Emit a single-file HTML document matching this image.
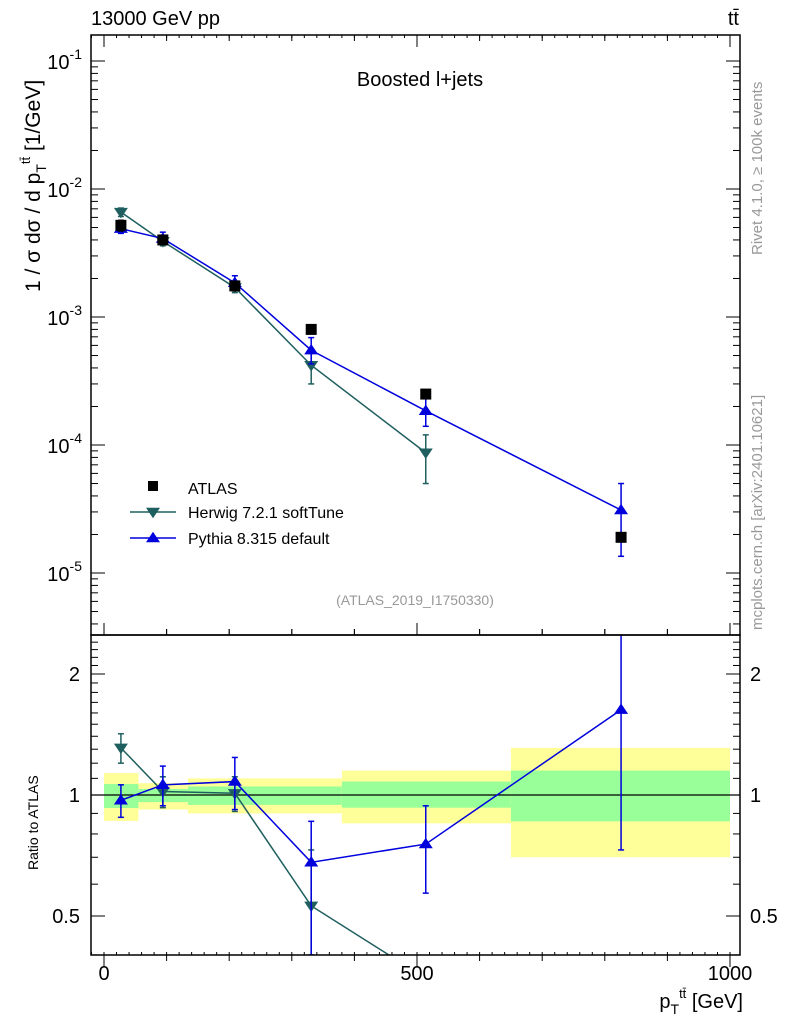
<!DOCTYPE html>
<html><head><meta charset="utf-8"><style>
html,body{margin:0;background:#fff;width:786px;height:1024px;overflow:hidden}
svg{display:block;font-family:"Liberation Sans",sans-serif}
</style></head><body>
<svg id="c" width="786" height="1024" xmlns="http://www.w3.org/2000/svg"></svg>
<script>
const xCenters=[27,94,209,331,514,826];
const atlas=[5.2e-3,4.0e-3,1.75e-3,8.0e-4,2.5e-4,1.9e-5];
const atlasErrLo=[4.7e-3,3.7e-3,1.6e-3,7.6e-4,2.4e-4,1.8e-5];
const atlasErrHi=[5.7e-3,4.3e-3,1.9e-3,8.4e-4,2.6e-4,2.0e-5];
const herwig=[6.6e-3,3.9e-3,1.7e-3,4.2e-4,8.7e-5];
const herwigLo=[6.1e-3,3.6e-3,1.55e-3,3.0e-4,5.0e-5];
const herwigHi=[7.1e-3,4.2e-3,1.85e-3,5.4e-4,1.2e-4];
const pythia=[4.9e-3,4.1e-3,1.85e-3,5.5e-4,1.85e-4,3.1e-5];
const pythiaLo=[4.5e-3,3.7e-3,1.65e-3,4.3e-4,1.4e-4,1.35e-5];
const pythiaHi=[5.3e-3,4.6e-3,2.1e-3,6.9e-4,2.4e-4,5.0e-5];
const herwigRatio=[1.31,1.02,1.01,0.53,0.35];
const herwigRatioLo=[1.2,0.93,0.91,0.33,0.2];
const herwigRatioHi=[1.42,1.11,1.11,0.73,0.38];
const pythiaRatio=[0.97,1.06,1.08,0.68,0.755,1.63];
const pythiaRatioLo=[0.88,0.94,0.92,0.4,0.57,0.73];
const pythiaRatioHi=[1.06,1.18,1.24,0.86,0.94,2.9];
const bandEdges=[0,55,134,380,650,1000];
const yellowLo=[0.862,0.92,0.90,0.85,0.70];
const yellowHi=[1.134,1.07,1.10,1.15,1.31];
const greenLo=[0.928,0.96,0.945,0.93,0.86];
const greenHi=[1.065,1.035,1.05,1.08,1.15];
const xTicks=[0,500,1000];
const yTicksMain=[-1,-2,-3,-4,-5];
const yTicksRatio=[0.5,1,2];

const NS="http://www.w3.org/2000/svg";
const svg=document.getElementById('c');
const L=91,R=740,T=35,M=635,B=955;
const X=v=>104+v*0.626;
const Y=v=>61+(-1-Math.log10(v))*128;
const YR=v=>795-121*Math.log2(v);
function el(tag,attrs,parent){const e=document.createElementNS(NS,tag);for(const k in attrs)e.setAttribute(k,attrs[k]);(parent||svg).appendChild(e);return e;}
function txt(x,y,s,attrs,parent){const e=el('text',Object.assign({x:x,y:y},attrs||{}),parent);e.innerHTML=s;return e;}
const defs=el('defs',{});
const cp1=el('clipPath',{id:'cm'},defs);el('rect',{x:L,y:T,width:R-L,height:M-T},cp1);
const cp2=el('clipPath',{id:'cr'},defs);el('rect',{x:L,y:M,width:R-L,height:B-M},cp2);
const gm=el('g',{'clip-path':'url(#cm)'});


const gr=el('g',{'clip-path':'url(#cr)'});



for(let i=0;i<bandEdges.length-1;i++){
 const x1=X(bandEdges[i]),x2=X(bandEdges[i+1]);
 const y=el('rect',{x:x1,y:YR(yellowHi[i]),width:x2-x1,height:YR(yellowLo[i])-YR(yellowHi[i]),fill:'#ffff99'},gr);
 
 
 const g=el('rect',{x:x1,y:YR(greenHi[i]),width:x2-x1,height:YR(greenLo[i])-YR(greenHi[i]),fill:'#99ff99'},gr);
 
 
}
el('line',{x1:L,x2:R,y1:YR(1),y2:YR(1),stroke:'#000','stroke-width':1.2},gr);

function tri(g,x,y,down,col){const s=7;const p=down?`${x-s},${y-s*0.6} ${x+s},${y-s*0.6} ${x},${y+s*0.9}`:`${x-s},${y+s*0.6} ${x+s},${y+s*0.6} ${x},${y-s*0.9}`;return el('polygon',{points:p,fill:col},g);}
function errbar(g,x,y1,y2,col){el('line',{x1:x,x2:x,y1:y1,y2:y2,stroke:col,'stroke-width':1.5},g);el('line',{x1:x-3,x2:x+3,y1:y1,y2:y1,stroke:col,'stroke-width':1.5},g);el('line',{x1:x-3,x2:x+3,y1:y2,y2:y2,stroke:col,'stroke-width':1.5},g);}
function series(g,vals,lo,hi,yf,col,down,name){
 const pts=vals.map((v,i)=>X(xCenters[i])+','+yf(v)).join(' ');
 const pl=el('polyline',{points:pts,fill:'none',stroke:col,'stroke-width':1.5},g);
 
 
 vals.forEach((v,i)=>{const x=X(xCenters[i]);errbar(g,x,yf(lo[i]),yf(hi[i]),col);
  const m=tri(g,x,yf(v),down,col);
  
  });
}
series(gm,herwig,herwigLo,herwigHi,Y,'#1f5f5f',true,'herwig');
series(gm,pythia,pythiaLo,pythiaHi,Y,'#0000dd',false,'pythia');
atlas.forEach((v,i)=>{const x=X(xCenters[i]);errbar(gm,x,Y(atlasErrLo[i]),Y(atlasErrHi[i]),'#000');
 const r=el('rect',{x:x-5.5,y:Y(v)-5.5,width:11,height:11,fill:'#000'},gm);
 
 });
series(gr,herwigRatio,herwigRatioLo,herwigRatioHi,YR,'#1f5f5f',true,'herwig-ratio');
series(gr,pythiaRatio,pythiaRatioLo,pythiaRatioHi,YR,'#0000dd',false,'pythia-ratio');

el('rect',{x:L,y:T,width:R-L,height:M-T,fill:'none',stroke:'#000','stroke-width':1.5});
el('rect',{x:L,y:M,width:R-L,height:B-M,fill:'none',stroke:'#000','stroke-width':1.5});
for(let v=0;v<=1000;v+=100){const x=X(v);const big=v%500===0;const l=big?12:6;
 [[M,1],[B,-1]].forEach(([yy,d])=>{el('line',{x1:x,x2:x,y1:yy-d*l,y2:yy,stroke:'#000'});});
 [[T,1],[M,-1]].forEach(([yy,d])=>{el('line',{x1:x,x2:x,y1:yy,y2:yy+d*l,stroke:'#000'});});}
for(let v=-20;v<=1000;v+=20){const x=X(v);if(x<L)continue;
 el('line',{x1:x,x2:x,y1:B,y2:B-3,stroke:'#000'});el('line',{x1:x,x2:x,y1:T,y2:T+3,stroke:'#000'});}
xTicks.forEach(v=>{const t=txt(X(v),980,String(v),{'font-size':20,'text-anchor':'middle'});});
for(let d=-6;d<=-1;d++){for(let m=1;m<10;m++){const v=m*Math.pow(10,d);const y=Y(v);if(y<T||y>M)continue;const l=m===1?14:7;
 el('line',{x1:L,x2:L+l,y1:y,y2:y,stroke:'#000'});el('line',{x1:R-l,x2:R,y1:y,y2:y,stroke:'#000'});}}
yTicksMain.forEach(d=>{const t=txt(82,Y(Math.pow(10,d))+8,'10<tspan dy="-10" font-size="14">'+d+'</tspan>',{'font-size':20,'text-anchor':'end'});});
for(let v=0.4;v<=2.5;v+=0.1){const y=YR(v);if(y<M||y>B)continue;const big=[0.5,1,2].some(b=>Math.abs(b-v)<1e-6);const l=big?14:7;
 el('line',{x1:L,x2:L+l,y1:y,y2:y,stroke:'#000'});el('line',{x1:R-l,x2:R,y1:y,y2:y,stroke:'#000'});}
yTicksRatio.forEach(v=>{const y=YR(v)+7;txt(80,y,String(v),{'font-size':20,'text-anchor':'end'});txt(750,y,String(v),{'font-size':20});});
txt(91,25,'13000 GeV pp',{'font-size':20});
txt(739,25,'tt̄',{'font-size':20,'text-anchor':'end'});
txt(420,86,'Boosted l+jets',{'font-size':20,'text-anchor':'middle'});
txt(415,605,'(ATLAS_2019_I1750330)',{'font-size':14,'text-anchor':'middle',fill:'#999'});
txt(0,0,'1 / σ dσ / d p<tspan font-size="14" dy="6">T</tspan><tspan font-size="13" dy="-16">tt̄</tspan><tspan dy="10"> [1/GeV]</tspan>',{'font-size':21,transform:'translate(40,292) rotate(-90)'});
txt(0,0,'Ratio to ATLAS',{'font-size':14,transform:'translate(38,870) rotate(-90)'});
txt(743,1008,'p<tspan font-size="14" dy="6">T</tspan><tspan font-size="13" dy="-16">tt̄</tspan><tspan dy="10"> [GeV]</tspan>',{'font-size':20,'text-anchor':'end'});
txt(0,0,'Rivet 4.1.0, ≥ 100k events',{'font-size':15,fill:'#999',transform:'translate(762,255) rotate(-90)'});
txt(0,0,'mcplots.cern.ch [arXiv:2401.10621]',{'font-size':15,fill:'#999',transform:'translate(762,630) rotate(-90)'});
const lg=el('g',{});
el('rect',{x:148,y:481,width:10,height:10,fill:'#000'},lg);txt(188,494,'ATLAS',{'font-size':16},lg);
el('line',{x1:130,x2:176,y1:512,y2:512,stroke:'#1f5f5f','stroke-width':1.5},lg);tri(lg,153,512,true,'#1f5f5f');txt(188,518,'Herwig 7.2.1 softTune',{'font-size':16},lg);
el('line',{x1:130,x2:176,y1:538,y2:538,stroke:'#0000dd','stroke-width':1.5},lg);tri(lg,153,538,false,'#0000dd');txt(188,544,'Pythia 8.315 default',{'font-size':16},lg);
</script>
</body></html>
